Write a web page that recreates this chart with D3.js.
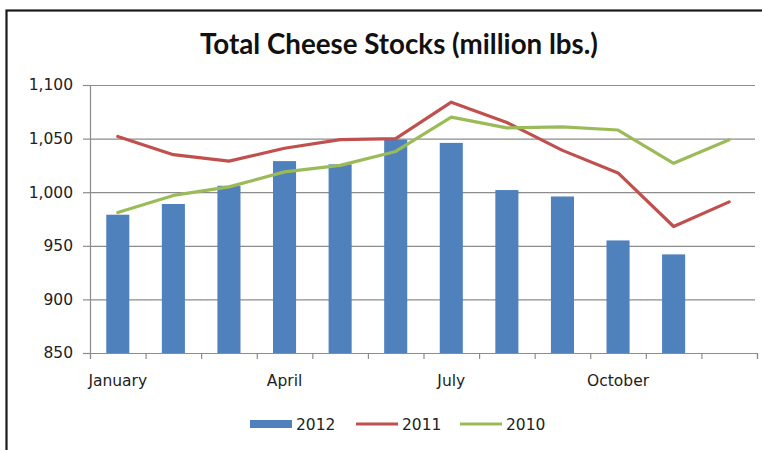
<!DOCTYPE html>
<html>
<head>
<meta charset="utf-8">
<script src="https://cdn.jsdelivr.net/npm/d3@7"></script>
<style>
  html, body { margin: 0; padding: 0; background: #fff; }
  svg { display: block; }
</style>
</head>
<body>
<svg id="chart" width="762" height="450"></svg>
<script>
const months = ["January","February","March","April","May","June","July","August","September","October","November","December"];
const labelledMonths = ["January","April","July","October"];
const values2012 = [979, 989, 1006, 1029, 1026, 1049, 1046, 1002, 996, 955, 942, null];
const values2011 = [1052, 1035, 1029, 1041, 1049, 1050, 1084, 1065, 1039, 1018, 968, 991];
const values2010 = [981, 997, 1005, 1019, 1025, 1038, 1070, 1060, 1061, 1058, 1027, 1049];
const yTicks = [850, 900, 950, 1000, 1050, 1100];
const seriesNames = ["2012", "2011", "2010"];
const title = "Total Cheese Stocks (million lbs.)";

const colors = { "2012": "#4F81BD", "2011": "#C0504D", "2010": "#9BBB59" };

const svg = d3.select("#chart");
const plot = { left: 90, right: 757, top: 85, bottom: 353 };
const fontFam = "'DejaVu Sans', Verdana, sans-serif";

// outer frame (cropped screenshot: right/bottom edges off-image)
svg.append("rect")
  .attr("x", 6.5).attr("y", 10.5)
  .attr("width", 800).attr("height", 500)
  .attr("fill", "none").attr("stroke", "#1a1a1a").attr("stroke-width", 2.2);

const x = d3.scaleBand().domain(months)
  .range([plot.left, plot.right])
  .paddingInner(0.585).paddingOuter(0.2925);
const xIdx = d3.scaleLinear().domain([0, months.length]).range([plot.left, plot.right]);
const y = d3.scaleLinear().domain([850, 1100]).range([plot.bottom, plot.top]);

// gridlines
svg.append("g")
  .attr("transform", `translate(${plot.left},0)`)
  .call(d3.axisLeft(y).tickValues(yTicks).tickSize(-(plot.right - 2 - plot.left)).tickFormat(""))
  .call(g => g.select(".domain").remove())
  .call(g => g.selectAll("line").attr("stroke", "#8c8c8c").attr("stroke-width", 1.2));

// bars
svg.append("g").selectAll("rect")
  .data(months.map((m, i) => ({ m, v: values2012[i] })).filter(d => d.v != null))
  .join("rect")
  .attr("x", d => x(d.m))
  .attr("width", x.bandwidth())
  .attr("y", d => y(d.v))
  .attr("height", d => y(850) - y(d.v))
  .attr("fill", colors["2012"]);

// y axis
const yAxis = svg.append("g")
  .attr("transform", `translate(${plot.left},0)`)
  .call(d3.axisLeft(y).tickValues(yTicks).tickSize(7).tickPadding(10).tickFormat(d3.format(",")));
yAxis.select(".domain").attr("stroke", "#8c8c8c").attr("stroke-width", 1.2);
yAxis.selectAll("line").attr("stroke", "#8c8c8c").attr("stroke-width", 1.2);
yAxis.selectAll("text").attr("font-family", fontFam).attr("font-size", 15.5).attr("fill", "#222");

// x axis
const xAxis = svg.append("g")
  .attr("transform", `translate(0,${plot.bottom})`)
  .call(d3.axisBottom(xIdx).tickValues(d3.range(months.length + 1)).tickSize(6).tickSizeOuter(6).tickFormat(""));
xAxis.select(".domain").attr("stroke", "#8c8c8c").attr("stroke-width", 1.2);
xAxis.selectAll("line").attr("stroke", "#8c8c8c").attr("stroke-width", 1.2);

svg.append("g").selectAll("text")
  .data(labelledMonths)
  .join("text")
  .attr("x", d => x(d) + x.bandwidth() / 2)
  .attr("y", 386)
  .attr("text-anchor", "middle")
  .attr("font-family", fontFam).attr("font-size", 15.5).attr("fill", "#222")
  .text(d => d);

// lines
const line = d3.line()
  .x((d, i) => x(months[i]) + x.bandwidth() / 2)
  .y(d => y(d));
[["2011", values2011], ["2010", values2010]].forEach(([name, vals]) => {
  svg.append("path")
    .datum(vals)
    .attr("d", line)
    .attr("fill", "none")
    .attr("stroke", colors[name])
    .attr("stroke-width", 3.2)
    .attr("stroke-linejoin", "round")
    .attr("stroke-linecap", "round");
});

// title
const t = svg.append("text")
  .attr("x", 399).attr("y", 53.5)
  .attr("text-anchor", "middle")
  .attr("font-family", "Lato, 'Open Sans', sans-serif")
  .attr("font-weight", "bold")
  .attr("font-size", 22)
  .attr("fill", "#111")
  .text(title);
const tw = t.node().getComputedTextLength();
t.attr("font-size", 22 * 398 / tw);

// legend
const legend = svg.append("g").attr("transform", "translate(0,424)");
const legendX = { "2012": 250, "2011": 356, "2010": 460 };
seriesNames.forEach(name => {
  const g = legend.append("g").attr("transform", `translate(${legendX[name]},0)`);
  if (name === "2012") {
    g.append("rect").attr("x", 0).attr("y", -4).attr("width", 42).attr("height", 8).attr("fill", colors[name]);
  } else {
    g.append("line").attr("x1", 0).attr("x2", 42).attr("y1", 0).attr("y2", 0)
      .attr("stroke", colors[name]).attr("stroke-width", 3.2);
  }
  g.append("text").attr("x", 46).attr("y", 0).attr("dy", "0.36em")
    .attr("font-family", fontFam).attr("font-size", 15.5).attr("fill", "#222")
    .text(name);
});
</script>
</body>
</html>
